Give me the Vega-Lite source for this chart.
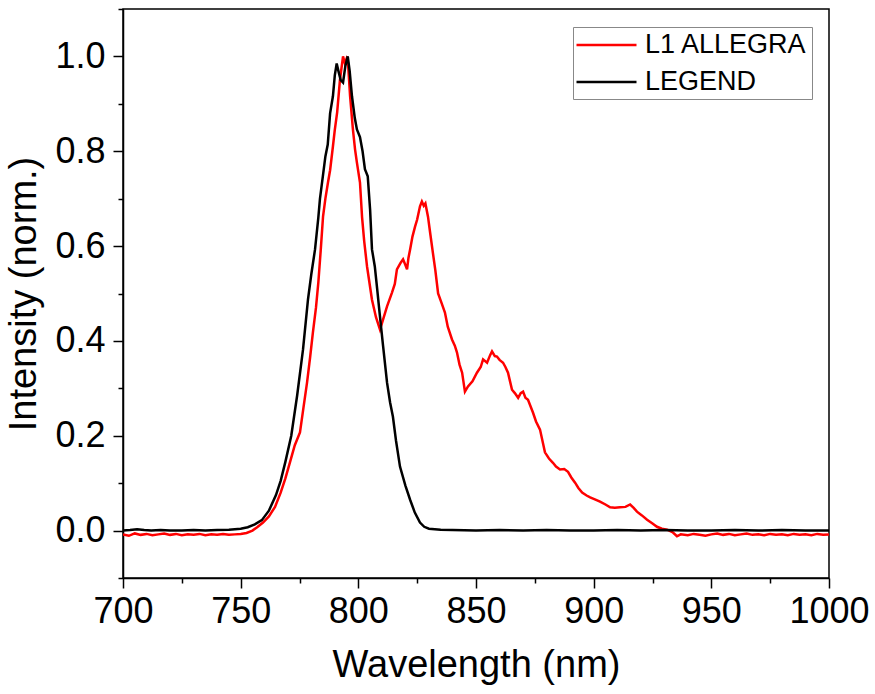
{
  "$schema": "https://vega.github.io/schema/vega-lite/v6.json",
  "width": 706,
  "height": 569,
  "autosize": "none",
  "padding": {"left": 123, "top": 9, "right": 46, "bottom": 116},
  "background": "white",
  "config": {
    "font": "Liberation Sans",
    "view": {"stroke": "black", "strokeWidth": 1.5},
    "axis": {
      "labelFont": "Liberation Sans",
      "titleFont": "Liberation Sans",
      "labelColor": "black",
      "titleColor": "black",
      "domainColor": "black",
      "tickColor": "black",
      "domainWidth": 1.5,
      "tickWidth": 1.5,
      "grid": false,
      "labelFontSize": 36,
      "titleFontSize": 38,
      "titleFontWeight": "normal",
      "labelOverlap": false,
      "labelFlush": false
    }
  },
  "data": {
    "values": [
      {"w": 700, "i": -0.008, "s": "L1 ALLEGRA"},
      {"w": 702.5, "i": -0.011, "s": "L1 ALLEGRA"},
      {"w": 705, "i": -0.006, "s": "L1 ALLEGRA"},
      {"w": 707.5, "i": -0.009, "s": "L1 ALLEGRA"},
      {"w": 710, "i": -0.007, "s": "L1 ALLEGRA"},
      {"w": 712.5, "i": -0.01, "s": "L1 ALLEGRA"},
      {"w": 715, "i": -0.008, "s": "L1 ALLEGRA"},
      {"w": 717.5, "i": -0.006, "s": "L1 ALLEGRA"},
      {"w": 720, "i": -0.009, "s": "L1 ALLEGRA"},
      {"w": 722.5, "i": -0.007, "s": "L1 ALLEGRA"},
      {"w": 725, "i": -0.01, "s": "L1 ALLEGRA"},
      {"w": 727.5, "i": -0.008, "s": "L1 ALLEGRA"},
      {"w": 730, "i": -0.009, "s": "L1 ALLEGRA"},
      {"w": 732.5, "i": -0.007, "s": "L1 ALLEGRA"},
      {"w": 735, "i": -0.01, "s": "L1 ALLEGRA"},
      {"w": 737.5, "i": -0.008, "s": "L1 ALLEGRA"},
      {"w": 740, "i": -0.009, "s": "L1 ALLEGRA"},
      {"w": 742.5, "i": -0.007, "s": "L1 ALLEGRA"},
      {"w": 745, "i": -0.009, "s": "L1 ALLEGRA"},
      {"w": 747.5, "i": -0.008, "s": "L1 ALLEGRA"},
      {"w": 750, "i": -0.007, "s": "L1 ALLEGRA"},
      {"w": 752.5, "i": -0.005, "s": "L1 ALLEGRA"},
      {"w": 755, "i": 0.0, "s": "L1 ALLEGRA"},
      {"w": 757, "i": 0.007, "s": "L1 ALLEGRA"},
      {"w": 759.5, "i": 0.017, "s": "L1 ALLEGRA"},
      {"w": 762, "i": 0.03, "s": "L1 ALLEGRA"},
      {"w": 764.6, "i": 0.05, "s": "L1 ALLEGRA"},
      {"w": 767, "i": 0.08, "s": "L1 ALLEGRA"},
      {"w": 769, "i": 0.11, "s": "L1 ALLEGRA"},
      {"w": 771, "i": 0.145, "s": "L1 ALLEGRA"},
      {"w": 773, "i": 0.18, "s": "L1 ALLEGRA"},
      {"w": 775.2, "i": 0.207, "s": "L1 ALLEGRA"},
      {"w": 776.7, "i": 0.26, "s": "L1 ALLEGRA"},
      {"w": 778.2, "i": 0.312, "s": "L1 ALLEGRA"},
      {"w": 779.5, "i": 0.365, "s": "L1 ALLEGRA"},
      {"w": 780.7, "i": 0.418, "s": "L1 ALLEGRA"},
      {"w": 782, "i": 0.47, "s": "L1 ALLEGRA"},
      {"w": 783, "i": 0.523, "s": "L1 ALLEGRA"},
      {"w": 784, "i": 0.59, "s": "L1 ALLEGRA"},
      {"w": 785, "i": 0.662, "s": "L1 ALLEGRA"},
      {"w": 786, "i": 0.7, "s": "L1 ALLEGRA"},
      {"w": 787.1, "i": 0.734, "s": "L1 ALLEGRA"},
      {"w": 788, "i": 0.76, "s": "L1 ALLEGRA"},
      {"w": 789.2, "i": 0.81, "s": "L1 ALLEGRA"},
      {"w": 790, "i": 0.845, "s": "L1 ALLEGRA"},
      {"w": 791, "i": 0.882, "s": "L1 ALLEGRA"},
      {"w": 792.2, "i": 0.951, "s": "L1 ALLEGRA"},
      {"w": 793.5, "i": 1.0, "s": "L1 ALLEGRA"},
      {"w": 794.3, "i": 0.985, "s": "L1 ALLEGRA"},
      {"w": 795, "i": 0.995, "s": "L1 ALLEGRA"},
      {"w": 795.6, "i": 0.987, "s": "L1 ALLEGRA"},
      {"w": 796.5, "i": 0.916, "s": "L1 ALLEGRA"},
      {"w": 797.7, "i": 0.846, "s": "L1 ALLEGRA"},
      {"w": 798.6, "i": 0.804, "s": "L1 ALLEGRA"},
      {"w": 799.4, "i": 0.776, "s": "L1 ALLEGRA"},
      {"w": 800.7, "i": 0.734, "s": "L1 ALLEGRA"},
      {"w": 801.6, "i": 0.66, "s": "L1 ALLEGRA"},
      {"w": 802.5, "i": 0.61, "s": "L1 ALLEGRA"},
      {"w": 803.7, "i": 0.557, "s": "L1 ALLEGRA"},
      {"w": 805.8, "i": 0.487, "s": "L1 ALLEGRA"},
      {"w": 807.5, "i": 0.45, "s": "L1 ALLEGRA"},
      {"w": 809.2, "i": 0.424, "s": "L1 ALLEGRA"},
      {"w": 810.5, "i": 0.445, "s": "L1 ALLEGRA"},
      {"w": 812.2, "i": 0.473, "s": "L1 ALLEGRA"},
      {"w": 814.3, "i": 0.502, "s": "L1 ALLEGRA"},
      {"w": 815.5, "i": 0.52, "s": "L1 ALLEGRA"},
      {"w": 816.4, "i": 0.551, "s": "L1 ALLEGRA"},
      {"w": 818, "i": 0.565, "s": "L1 ALLEGRA"},
      {"w": 819, "i": 0.572, "s": "L1 ALLEGRA"},
      {"w": 820, "i": 0.56, "s": "L1 ALLEGRA"},
      {"w": 820.7, "i": 0.551, "s": "L1 ALLEGRA"},
      {"w": 821.3, "i": 0.575, "s": "L1 ALLEGRA"},
      {"w": 822, "i": 0.593, "s": "L1 ALLEGRA"},
      {"w": 823, "i": 0.62, "s": "L1 ALLEGRA"},
      {"w": 824.1, "i": 0.641, "s": "L1 ALLEGRA"},
      {"w": 825, "i": 0.656, "s": "L1 ALLEGRA"},
      {"w": 826.2, "i": 0.684, "s": "L1 ALLEGRA"},
      {"w": 827, "i": 0.694, "s": "L1 ALLEGRA"},
      {"w": 827.8, "i": 0.685, "s": "L1 ALLEGRA"},
      {"w": 828.5, "i": 0.69, "s": "L1 ALLEGRA"},
      {"w": 829.6, "i": 0.662, "s": "L1 ALLEGRA"},
      {"w": 830.6, "i": 0.625, "s": "L1 ALLEGRA"},
      {"w": 831.7, "i": 0.585, "s": "L1 ALLEGRA"},
      {"w": 832.7, "i": 0.55, "s": "L1 ALLEGRA"},
      {"w": 833.9, "i": 0.5, "s": "L1 ALLEGRA"},
      {"w": 835.5, "i": 0.478, "s": "L1 ALLEGRA"},
      {"w": 836.8, "i": 0.46, "s": "L1 ALLEGRA"},
      {"w": 838, "i": 0.43, "s": "L1 ALLEGRA"},
      {"w": 839.8, "i": 0.403, "s": "L1 ALLEGRA"},
      {"w": 841, "i": 0.39, "s": "L1 ALLEGRA"},
      {"w": 841.9, "i": 0.376, "s": "L1 ALLEGRA"},
      {"w": 843, "i": 0.35, "s": "L1 ALLEGRA"},
      {"w": 844.1, "i": 0.333, "s": "L1 ALLEGRA"},
      {"w": 845.3, "i": 0.293, "s": "L1 ALLEGRA"},
      {"w": 846.6, "i": 0.304, "s": "L1 ALLEGRA"},
      {"w": 848.5, "i": 0.315, "s": "L1 ALLEGRA"},
      {"w": 850.4, "i": 0.333, "s": "L1 ALLEGRA"},
      {"w": 852, "i": 0.345, "s": "L1 ALLEGRA"},
      {"w": 853, "i": 0.361, "s": "L1 ALLEGRA"},
      {"w": 854.7, "i": 0.354, "s": "L1 ALLEGRA"},
      {"w": 856, "i": 0.37, "s": "L1 ALLEGRA"},
      {"w": 856.8, "i": 0.378, "s": "L1 ALLEGRA"},
      {"w": 858, "i": 0.368, "s": "L1 ALLEGRA"},
      {"w": 858.9, "i": 0.367, "s": "L1 ALLEGRA"},
      {"w": 860, "i": 0.36, "s": "L1 ALLEGRA"},
      {"w": 861.5, "i": 0.354, "s": "L1 ALLEGRA"},
      {"w": 862.5, "i": 0.345, "s": "L1 ALLEGRA"},
      {"w": 863.6, "i": 0.333, "s": "L1 ALLEGRA"},
      {"w": 865.3, "i": 0.297, "s": "L1 ALLEGRA"},
      {"w": 866.5, "i": 0.29, "s": "L1 ALLEGRA"},
      {"w": 867.9, "i": 0.28, "s": "L1 ALLEGRA"},
      {"w": 869, "i": 0.29, "s": "L1 ALLEGRA"},
      {"w": 870, "i": 0.293, "s": "L1 ALLEGRA"},
      {"w": 871, "i": 0.28, "s": "L1 ALLEGRA"},
      {"w": 872.1, "i": 0.276, "s": "L1 ALLEGRA"},
      {"w": 874.2, "i": 0.249, "s": "L1 ALLEGRA"},
      {"w": 875.5, "i": 0.23, "s": "L1 ALLEGRA"},
      {"w": 877.2, "i": 0.213, "s": "L1 ALLEGRA"},
      {"w": 879.3, "i": 0.165, "s": "L1 ALLEGRA"},
      {"w": 881, "i": 0.152, "s": "L1 ALLEGRA"},
      {"w": 882.7, "i": 0.143, "s": "L1 ALLEGRA"},
      {"w": 884, "i": 0.135, "s": "L1 ALLEGRA"},
      {"w": 885.7, "i": 0.129, "s": "L1 ALLEGRA"},
      {"w": 887.5, "i": 0.13, "s": "L1 ALLEGRA"},
      {"w": 889.1, "i": 0.124, "s": "L1 ALLEGRA"},
      {"w": 890.5, "i": 0.112, "s": "L1 ALLEGRA"},
      {"w": 892.1, "i": 0.101, "s": "L1 ALLEGRA"},
      {"w": 893.5, "i": 0.09, "s": "L1 ALLEGRA"},
      {"w": 895.1, "i": 0.08, "s": "L1 ALLEGRA"},
      {"w": 897, "i": 0.074, "s": "L1 ALLEGRA"},
      {"w": 898.5, "i": 0.07, "s": "L1 ALLEGRA"},
      {"w": 900.5, "i": 0.066, "s": "L1 ALLEGRA"},
      {"w": 902.7, "i": 0.061, "s": "L1 ALLEGRA"},
      {"w": 905, "i": 0.055, "s": "L1 ALLEGRA"},
      {"w": 907, "i": 0.049, "s": "L1 ALLEGRA"},
      {"w": 909, "i": 0.048, "s": "L1 ALLEGRA"},
      {"w": 911.2, "i": 0.049, "s": "L1 ALLEGRA"},
      {"w": 913.5, "i": 0.05, "s": "L1 ALLEGRA"},
      {"w": 915.5, "i": 0.055, "s": "L1 ALLEGRA"},
      {"w": 917, "i": 0.048, "s": "L1 ALLEGRA"},
      {"w": 918.4, "i": 0.04, "s": "L1 ALLEGRA"},
      {"w": 920.5, "i": 0.032, "s": "L1 ALLEGRA"},
      {"w": 922.7, "i": 0.023, "s": "L1 ALLEGRA"},
      {"w": 925, "i": 0.015, "s": "L1 ALLEGRA"},
      {"w": 926.9, "i": 0.008, "s": "L1 ALLEGRA"},
      {"w": 929, "i": 0.004, "s": "L1 ALLEGRA"},
      {"w": 931.2, "i": 0.002, "s": "L1 ALLEGRA"},
      {"w": 933.7, "i": -0.004, "s": "L1 ALLEGRA"},
      {"w": 935.4, "i": -0.012, "s": "L1 ALLEGRA"},
      {"w": 937, "i": -0.008, "s": "L1 ALLEGRA"},
      {"w": 940, "i": -0.01, "s": "L1 ALLEGRA"},
      {"w": 942.5, "i": -0.007, "s": "L1 ALLEGRA"},
      {"w": 945, "i": -0.009, "s": "L1 ALLEGRA"},
      {"w": 947.5, "i": -0.011, "s": "L1 ALLEGRA"},
      {"w": 950, "i": -0.008, "s": "L1 ALLEGRA"},
      {"w": 952.5, "i": -0.006, "s": "L1 ALLEGRA"},
      {"w": 955, "i": -0.009, "s": "L1 ALLEGRA"},
      {"w": 957.5, "i": -0.007, "s": "L1 ALLEGRA"},
      {"w": 960, "i": -0.01, "s": "L1 ALLEGRA"},
      {"w": 962.5, "i": -0.008, "s": "L1 ALLEGRA"},
      {"w": 965, "i": -0.006, "s": "L1 ALLEGRA"},
      {"w": 967.5, "i": -0.009, "s": "L1 ALLEGRA"},
      {"w": 970, "i": -0.008, "s": "L1 ALLEGRA"},
      {"w": 972.5, "i": -0.01, "s": "L1 ALLEGRA"},
      {"w": 975, "i": -0.007, "s": "L1 ALLEGRA"},
      {"w": 977.5, "i": -0.009, "s": "L1 ALLEGRA"},
      {"w": 980, "i": -0.008, "s": "L1 ALLEGRA"},
      {"w": 982.5, "i": -0.01, "s": "L1 ALLEGRA"},
      {"w": 985, "i": -0.007, "s": "L1 ALLEGRA"},
      {"w": 987.5, "i": -0.009, "s": "L1 ALLEGRA"},
      {"w": 990, "i": -0.008, "s": "L1 ALLEGRA"},
      {"w": 992.5, "i": -0.01, "s": "L1 ALLEGRA"},
      {"w": 995, "i": -0.007, "s": "L1 ALLEGRA"},
      {"w": 997.5, "i": -0.009, "s": "L1 ALLEGRA"},
      {"w": 1000, "i": -0.008, "s": "L1 ALLEGRA"},

      {"w": 700, "i": 0.0, "s": "LEGEND"},
      {"w": 703, "i": 0.001, "s": "LEGEND"},
      {"w": 706, "i": 0.003, "s": "LEGEND"},
      {"w": 709, "i": 0.001, "s": "LEGEND"},
      {"w": 712, "i": 0.0, "s": "LEGEND"},
      {"w": 716, "i": 0.001, "s": "LEGEND"},
      {"w": 720, "i": 0.0, "s": "LEGEND"},
      {"w": 725, "i": 0.0, "s": "LEGEND"},
      {"w": 730, "i": 0.001, "s": "LEGEND"},
      {"w": 735, "i": 0.0, "s": "LEGEND"},
      {"w": 740, "i": 0.001, "s": "LEGEND"},
      {"w": 745, "i": 0.002, "s": "LEGEND"},
      {"w": 750, "i": 0.004, "s": "LEGEND"},
      {"w": 753, "i": 0.007, "s": "LEGEND"},
      {"w": 756, "i": 0.013, "s": "LEGEND"},
      {"w": 759, "i": 0.022, "s": "LEGEND"},
      {"w": 762, "i": 0.042, "s": "LEGEND"},
      {"w": 765, "i": 0.075, "s": "LEGEND"},
      {"w": 767, "i": 0.105, "s": "LEGEND"},
      {"w": 769, "i": 0.145, "s": "LEGEND"},
      {"w": 771.5, "i": 0.2, "s": "LEGEND"},
      {"w": 774, "i": 0.285, "s": "LEGEND"},
      {"w": 776.5, "i": 0.382, "s": "LEGEND"},
      {"w": 778.6, "i": 0.487, "s": "LEGEND"},
      {"w": 780, "i": 0.54, "s": "LEGEND"},
      {"w": 781.6, "i": 0.593, "s": "LEGEND"},
      {"w": 783, "i": 0.66, "s": "LEGEND"},
      {"w": 783.7, "i": 0.7, "s": "LEGEND"},
      {"w": 785, "i": 0.75, "s": "LEGEND"},
      {"w": 786, "i": 0.789, "s": "LEGEND"},
      {"w": 787, "i": 0.814, "s": "LEGEND"},
      {"w": 788, "i": 0.88, "s": "LEGEND"},
      {"w": 789.2, "i": 0.916, "s": "LEGEND"},
      {"w": 790, "i": 0.96, "s": "LEGEND"},
      {"w": 790.8, "i": 0.985, "s": "LEGEND"},
      {"w": 791.5, "i": 0.97, "s": "LEGEND"},
      {"w": 792.5, "i": 0.95, "s": "LEGEND"},
      {"w": 793.5, "i": 0.945, "s": "LEGEND"},
      {"w": 794.5, "i": 0.98, "s": "LEGEND"},
      {"w": 795.5, "i": 1.0, "s": "LEGEND"},
      {"w": 796.3, "i": 0.97, "s": "LEGEND"},
      {"w": 797.3, "i": 0.916, "s": "LEGEND"},
      {"w": 798.5, "i": 0.87, "s": "LEGEND"},
      {"w": 799.4, "i": 0.846, "s": "LEGEND"},
      {"w": 800.7, "i": 0.83, "s": "LEGEND"},
      {"w": 801.8, "i": 0.8, "s": "LEGEND"},
      {"w": 802.8, "i": 0.762, "s": "LEGEND"},
      {"w": 804, "i": 0.747, "s": "LEGEND"},
      {"w": 805, "i": 0.677, "s": "LEGEND"},
      {"w": 805.8, "i": 0.593, "s": "LEGEND"},
      {"w": 807, "i": 0.557, "s": "LEGEND"},
      {"w": 808, "i": 0.51, "s": "LEGEND"},
      {"w": 809.2, "i": 0.451, "s": "LEGEND"},
      {"w": 810.5, "i": 0.39, "s": "LEGEND"},
      {"w": 812.2, "i": 0.312, "s": "LEGEND"},
      {"w": 813.5, "i": 0.27, "s": "LEGEND"},
      {"w": 814.7, "i": 0.24, "s": "LEGEND"},
      {"w": 816, "i": 0.19, "s": "LEGEND"},
      {"w": 817.7, "i": 0.135, "s": "LEGEND"},
      {"w": 820, "i": 0.095, "s": "LEGEND"},
      {"w": 822, "i": 0.065, "s": "LEGEND"},
      {"w": 824, "i": 0.038, "s": "LEGEND"},
      {"w": 826.2, "i": 0.017, "s": "LEGEND"},
      {"w": 828, "i": 0.008, "s": "LEGEND"},
      {"w": 830, "i": 0.004, "s": "LEGEND"},
      {"w": 835, "i": 0.002, "s": "LEGEND"},
      {"w": 840, "i": 0.001, "s": "LEGEND"},
      {"w": 850, "i": 0.0, "s": "LEGEND"},
      {"w": 860, "i": 0.001, "s": "LEGEND"},
      {"w": 870, "i": 0.0, "s": "LEGEND"},
      {"w": 880, "i": 0.001, "s": "LEGEND"},
      {"w": 890, "i": 0.0, "s": "LEGEND"},
      {"w": 900, "i": 0.0, "s": "LEGEND"},
      {"w": 910, "i": 0.001, "s": "LEGEND"},
      {"w": 920, "i": 0.0, "s": "LEGEND"},
      {"w": 930, "i": 0.001, "s": "LEGEND"},
      {"w": 940, "i": 0.0, "s": "LEGEND"},
      {"w": 950, "i": 0.0, "s": "LEGEND"},
      {"w": 960, "i": 0.001, "s": "LEGEND"},
      {"w": 970, "i": 0.0, "s": "LEGEND"},
      {"w": 980, "i": 0.001, "s": "LEGEND"},
      {"w": 990, "i": 0.0, "s": "LEGEND"},
      {"w": 1000, "i": 0.0, "s": "LEGEND"}
    ]
  },
  "mark": {"type": "line", "strokeWidth": 2.5, "clip": true},
  "encoding": {
    "x": {
      "field": "w",
      "type": "quantitative",
      "scale": {"domain": [700, 1000], "nice": false, "zero": false},
      "axis": {
        "title": "Wavelength (nm)",
        "values": [700, 725, 750, 775, 800, 825, 850, 875, 900, 925, 950, 975, 1000],
        "labelExpr": "datum.value % 50 == 0 ? datum.value : ''",
        "tickSize": {"condition": {"test": "datum.value % 50 != 0", "value": 5}, "value": 10},
        "labelPadding": 6,
        "titlePadding": 17
      }
    },
    "y": {
      "field": "i",
      "type": "quantitative",
      "scale": {"domain": [-0.1, 1.1], "nice": false, "zero": false},
      "axis": {
        "title": "Intensity (norm.)",
        "values": [-0.1, 0, 0.1, 0.2, 0.3, 0.4, 0.5, 0.6, 0.7, 0.8, 0.9, 1.0, 1.1],
        "labelExpr": "round(datum.value * 10) % 2 == 0 ? format(datum.value, '.1f') : ''",
        "tickSize": {"condition": {"test": "round(datum.value * 10) % 2 != 0", "value": 5}, "value": 10},
        "labelPadding": 8,
        "titlePadding": 11
      }
    },
    "color": {
      "field": "s",
      "type": "nominal",
      "scale": {"domain": ["L1 ALLEGRA", "LEGEND"], "range": ["#ff0000", "#000000"]},
      "legend": {
        "title": null,
        "orient": "none",
        "legendX": 450,
        "legendY": 18,
        "symbolType": "M-2.4,0H2.4",
        "symbolSize": 625,
        "symbolOffset": 15.5,
        "symbolStrokeWidth": 2.5,
        "labelFontSize": 27,
        "labelFont": "Liberation Sans",
        "labelColor": "black",
        "labelLimit": 400,
        "labelOffset": 24.5,
        "rowPadding": 10,
        "padding": 4,
        "strokeColor": "#888888",
        "fillColor": "white"
      }
    }
  }
}
